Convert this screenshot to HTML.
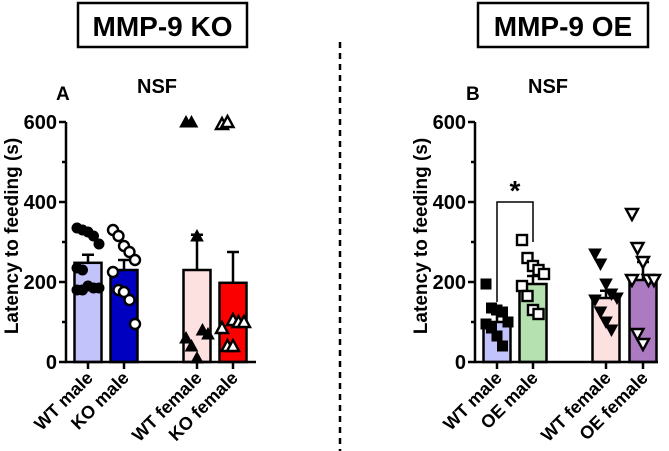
<!DOCTYPE html>
<html><head><meta charset="utf-8"><style>
body{margin:0;background:#fff;}
svg{display:block;font-family:"Liberation Sans",Arial,sans-serif;font-weight:bold;}
</style></head><body>
<svg id="fig" width="669" height="451" viewBox="0 0 669 451" xmlns="http://www.w3.org/2000/svg">
<rect x="78" y="3" width="169" height="44" fill="none" stroke="#000" stroke-width="2.5"/>
<text x="162.5" y="36" text-anchor="middle" font-size="28">MMP-9 KO</text>
<rect x="478" y="3" width="170" height="44" fill="none" stroke="#000" stroke-width="2.5"/>
<text x="563" y="36" text-anchor="middle" font-size="28">MMP-9 OE</text>
<line x1="340" y1="42" x2="340" y2="451" stroke="#000" stroke-width="2.5" stroke-dasharray="6,5"/>
<text x="56" y="100" font-size="19">A</text>
<text x="157" y="93" text-anchor="middle" font-size="20">NSF</text>
<text x="466" y="100" font-size="19">B</text>
<text x="548" y="93" text-anchor="middle" font-size="20">NSF</text>
<g id="chartA"></g><g id="chartB"></g>
</svg>
<script>
const catsA=["WT male","KO male","WT female","KO female"];
const meansA=[248,230,230,198];
const semA=[20,25,88,77];
const ptsA0=[335,330,325,315,295,235,230,190,185,185,180,180];
const ptsA1=[330,315,290,275,255,225,180,175,155,95];
const ptsA2=[600,600,315,80,70,60,40,10];
const ptsA3=[595,600,105,100,100,85,40,40];
const catsB=["WT male","OE male","WT female","OE female"];
const meansB=[100,195,160,205];
const semB=[20,20,18,45];
const ptsB0=[195,135,130,125,100,95,85,65,40];
const ptsB1=[305,260,240,230,220,190,165,130,120];
const ptsB2=[270,245,195,170,160,155,125,100,80];
const ptsB3=[370,285,250,205,205,205,70,45];
const yTicks=[0,200,400,600];
const NS="http://www.w3.org/2000/svg";
function el(p,t,a){const e=document.createElementNS(NS,t);for(const k in a)e.setAttribute(k,a[k]);p.appendChild(e);return e;}
function marker(g,shape,cx,cy,fill,stroke){let e;const r=5;
 if(shape==="circle")e=el(g,"circle",{cx:cx,cy:cy,r:r});
 else if(shape==="square")e=el(g,"rect",{x:cx-r,y:cy-r,width:2*r,height:2*r});
 else if(shape==="tri")e=el(g,"polygon",{points:`${cx},${cy-r-1} ${cx-r-1},${cy+r} ${cx+r+1},${cy+r}`});
 else e=el(g,"polygon",{points:`${cx},${cy+r+1} ${cx-r-1},${cy-r} ${cx+r+1},${cy-r}`});
 e.setAttribute("fill",fill);e.setAttribute("stroke",stroke);e.setAttribute("stroke-width",fill==="#fff"?"2.4":"1");
 
 }
function chart(gid,ax,axEnd,centers,cats,means,sem,pts,colors,shapes,fills,tag){
 const g=document.getElementById(gid);
 const y0=362,y1=122,ymax=600;const Y=v=>y0-(v/ymax)*(y0-y1);const bw=27;
 for(let i=0;i<cats.length;i++){const cx=centers[i];
  const r=el(g,"rect",{x:cx-bw/2,y:Y(means[i]),width:bw,height:y0-Y(means[i]),fill:colors[i],stroke:"#000","stroke-width":2.5});
  
  
  const e=el(g,"path",{d:`M${cx},${Y(means[i])}V${Y(means[i]+sem[i])}M${cx-6},${Y(means[i]+sem[i])}H${cx+6}`,stroke:"#000","stroke-width":2.5,fill:"none"});
  
  
  const p=pts[i];for(let j=0;j<p.length;j++){const off=((j%5)-2)*5.5;marker(g,shapes[i],cx+off,Y(p[j]),fills[i],"#000");}
  const tl=el(g,"line",{x1:cx,x2:cx,y1:y0,y2:y0+7,stroke:"#000","stroke-width":2.5});
  
  
  const t=el(g,"text",{transform:`translate(${cx+6},${y0+17}) rotate(-45)`,"text-anchor":"end","font-size":18});
  t.textContent=cats[i];
  
  
 }
 const a=el(g,"path",{d:`M${ax},${y1}V${y0}H${axEnd}`,stroke:"#000","stroke-width":2.5,fill:"none"});
 
 
 for(let v=0;v<=600;v+=100){const tk=el(g,"line",{x1:ax-(v%200===0?7:4),x2:ax,y1:Y(v),y2:Y(v),stroke:"#000","stroke-width":2.5});
  
  }
 yTicks.forEach(v=>{const t=el(g,"text",{x:ax-9,y:Y(v)+7,"text-anchor":"end","font-size":20});t.textContent=v;
  
  });
 const yl=el(g,"text",{transform:`translate(${ax-48},${(y0+y1)/2-6}) rotate(-90)`,"text-anchor":"middle","font-size":19});
 yl.textContent="Latency to feeding  (s)";
 
 
 return Y;
}
chart("chartA",66,256,[88,124,197,233],catsA,meansA,semA,[ptsA0,ptsA1,ptsA2,ptsA3],["#c3c3fb","#0000c0","#fde0e0","#fb0000"],["circle","circle","tri","tri"],["#000","#fff","#000","#fff"],"a");
const YB=chart("chartB",475,658,[497,533,606,643],catsB,meansB,semB,[ptsB0,ptsB1,ptsB2,ptsB3],["#c3c3fb","#b5e0b0","#fde0e0","#ac7ac0"],["square","square","tri-down","tri-down"],["#000","#fff","#000","#fff"],"b");
const gb=document.getElementById("chartB");
const br=el(gb,"path",{d:`M497,${YB(150)}V${YB(400)}H533V${YB(300)}`,stroke:"#000","stroke-width":1.5,fill:"none"});


const st=el(gb,"text",{x:515,y:YB(430)+10,"text-anchor":"middle","font-size":28});
st.textContent="*";


</script>
</body></html>
